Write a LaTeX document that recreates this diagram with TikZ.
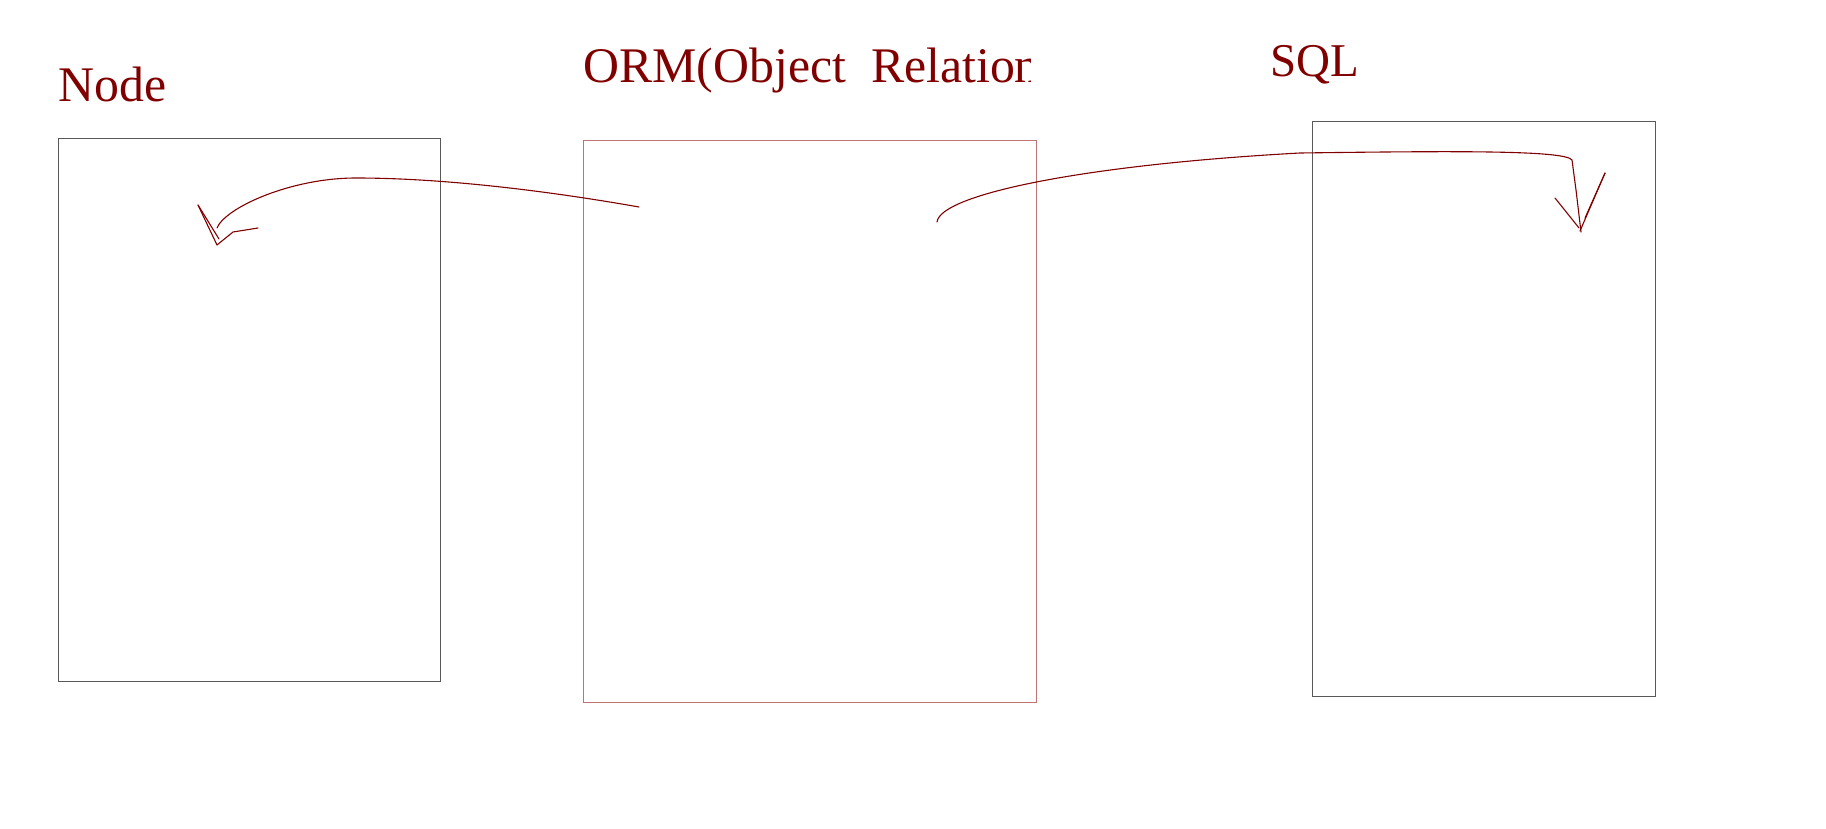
\documentclass[tikz,border=0pt]{standalone}
\usepackage{fontspec}
\setmainfont{Liberation Serif}
\usetikzlibrary{calc}
\definecolor{inkred}{rgb}{0.5,0,0}
\definecolor{boxgray}{rgb}{0.35,0.35,0.35}
\definecolor{boxred}{rgb}{0.75,0.45,0.45}

\begin{document}
\begin{tikzpicture}[x=0.5pt,y=-0.5pt,
    title/.style={anchor=base west,inner sep=0pt,text=inkred,font=\fontsize{24.9}{30}\selectfont},
    panel/.style={draw=boxgray,line width=0.5pt,inner sep=0pt,outer sep=0pt},
    stroke/.style={draw=inkred,line width=0.55pt,line cap=round,line join=round}]
            \useasboundingbox (0,0) rectangle (1826,829);

            \node[title] (nodetitle) at (58,102){Node};
            \begin{scope}
              \clip (570,30) rectangle (1030,110);
              \node[title] (ormtitle) at (583,83){ORM(Object\hspace{0.5em}Relation};
            \end{scope}
            \node[title,font=\fontsize{23.5}{28}\selectfont] (sqltitle) at (1270,77){SQL};

            \node[panel,minimum width=191pt,minimum height=271pt] (nodebox) at (249,410){};
            \node[panel,draw=boxred,minimum width=226.5pt,minimum height=280.5pt] (ormbox) at (809.5,421.5){};
            \node[panel,minimum width=171.5pt,minimum height=287pt] (sqlbox) at (1483.5,409){};

            % ORM -> Node
            \coordinate (ormfrom) at (639,207);
            \coordinate (nodetop) at (356,178);
            \coordinate (nodetip) at (217,228);
            \draw[stroke] (ormfrom) .. controls (560,193) and (450,178) .. (nodetop)
                                    .. controls (290,178) and (225,208) .. (nodetip);
            \draw[stroke] (198,205) -- (217,245) -- (233,232) -- (258,228);
            \draw[stroke] (198,205) -- (219,239);

            % ORM -> SQL
            \coordinate (ormto) at (937,222);
            \coordinate (sqltop) at (1300,153);
            \coordinate (sqltip) at (1581,232);
            \draw[stroke] (ormto) .. controls (940,195) and (1080,165) .. (sqltop)
                                  .. controls (1450,151) and (1565,150) .. (1572,160)
                                  -- (1576,190) -- (sqltip);
            \draw[stroke] (1555,198) -- (1579,228);
            \draw[stroke] (1605,173) -- (1580,231);
            \draw[stroke] (1585,218) -- (1605,173);
\end{tikzpicture}
\end{document}
